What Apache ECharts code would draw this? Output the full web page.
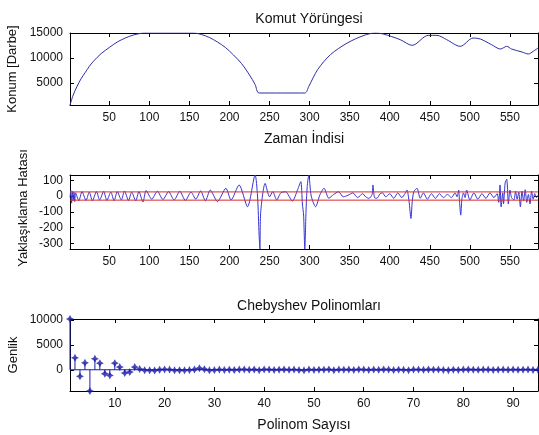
<!DOCTYPE html>
<html>
<head>
<meta charset="utf-8">
<script src="https://cdn.jsdelivr.net/npm/echarts@6/dist/echarts.min.js"></script>
<style>
  html, body { margin: 0; padding: 0; background: #fff; }
  #chart { width: 539px; height: 435px; }
</style>
</head>
<body>
<div id="chart"></div>
<script>
// Commanded position trajectory (sample index, position in pulses)
const trajIdx = [1, 5, 10, 15, 20, 25, 30, 40, 50, 60, 70, 80, 90, 93,
  155, 165, 175, 185, 195, 205, 215, 225, 232, 237,
  294, 299, 310, 326, 347, 368, 382, 392, 413, 428, 448, 459, 471, 488,
  504, 513, 527, 538, 546, 552, 565, 573, 579, 585];
const trajVal = [600, 2600, 4400, 5900, 7100, 8300, 9300, 10900, 12100, 13200, 14000, 14600, 14950, 15000,
  15000, 14700, 14100, 13200, 12100, 10600, 8900, 6600, 4700, 3000,
  3000, 4330, 7670, 10670, 13000, 14530, 15000, 14800, 13670, 12530, 14530, 14530, 13670, 12330,
  14000, 13800, 12670, 11800, 12330, 11800, 11200, 10800, 11330, 12000];

// Approximation error (sample index, error)
const errIdx = [1, 2, 3, 4, 5, 6, 7, 8,
  12, 16, 21, 25, 29, 34, 38, 43, 47, 52, 56, 60, 65, 69, 74, 78, 83, 87, 92, 96,
  103, 110, 117, 124, 131, 138, 145, 152, 158, 164, 170, 176, 185, 195.5, 202, 212, 222.5, 232,
  235, 237, 238, 239, 244.5, 250, 254, 259, 264, 270, 278.5, 285, 289, 291, 292.5, 294, 295.5, 297, 299,
  302, 307.5, 313, 318, 324, 330, 336, 342, 348, 354, 360, 366, 370, 374, 378, 379, 381, 384, 388, 391,
  395, 400, 405, 410, 415, 419, 421.5, 424, 426.5, 428, 430, 434, 438, 442, 447, 452, 457, 462, 467,
  472, 477, 481.5, 484, 486, 487, 488.6, 490, 492, 494, 496, 500, 505, 510, 515, 520, 525, 530, 534,
  536, 537.6, 539, 541, 542, 544, 546, 548, 550, 552, 555, 557, 559, 561, 563, 565, 567, 569, 571,
  573, 575, 577, 579, 581, 583, 585];
const errVal = [-10, 35, -45, 30, -30, 25, -35, 20,
  -30, 28, -28, 25, -30, 28, -25, 30, -28, 25, -30, 28, -25, 32, -28, 25, -30, 28, -38, 35,
  -20, 30, -22, 28, -25, 30, -28, 25, -20, 32, -30, 38, -35, 49, -25, 70, -68, 133,
  0, -250, -335, -100, 80, -5, 27, -25, 20, 27, -32, 40, 91, -50, -120, -335, -100, 60, 133,
  0, -68, 10, 49, -14, 10, 27, -5, 5, 20, -10, 15, -5, -15, 10, 70, -10, -14, 15, 20,
  -5, 15, -15, 20, -10, 15, 38, -30, -142, -40, 27, 49, -14, 20, -20, 15, -15, 15, -10,
  10, -10, 20, -5, 38, -30, -121, -20, 20, -10, 38, -25, 20, -20, 15, -15, 20, -10, 15,
  -40, 70, -68, 20, -50, 83, 106, -50, 38, -10, -25, 30, -20, 25, -68, 30, -30, 40, -40,
  10, -50, 30, -20, 15, -10, 5];

// Error tolerance band
const errBand = [26, -26];

// Chebyshev coefficient amplitudes, orders 1..95
const coeffVals = [
  10200, 2400, -1330, 1400, -4270, 2200, 1330, -800, -1130, 1330,
  530, -670, -470, 530, 130, -100, -120, -150, 0, 60,
  40, -120, -100, -110, -60, 50, 300, 100, -120, -60,
  30, -30, 20, -50, 40, 60, -20, 50, -80, 60,
  40, -30, 20, 50, -20, 40, -70, -120, 30, -40,
  20, 10, 60, -90, 40, 20, 30, -30, 60, 30,
  -40, 40, -20, 50, 30, -60, 20, -10, -90, 40,
  30, -20, 50, 10, 40, -30, -90, 20, -40, 30,
  50, 10, -20, 40, 30, -30, 20, 40, -10, 30,
  -20, 10, 40, -30, 20];

// Tick positions
const timeTicks = [50, 100, 150, 200, 250, 300, 350, 400, 450, 500, 550];
const posTicks = [5000, 10000, 15000];
const errTicks = [-300, -200, -100, 0, 100];
const orderTicks = [10, 20, 30, 40, 50, 60, 70, 80, 90];
const ampTicks = [0, 5000, 10000];

const FONT = '"Liberation Sans", Arial, sans-serif';
const INK = '#111';
const TITLE_SIZE = 14;
const YNAME_SIZE = 13;

const pairs = (xs, ys) => xs.map((x, i) => [x, ys[i]]);
const plain = v => String(v);

function xAx(grid, min, max, ticks, pos, name) {
  const main = pos === 'bottom';
  return {
    type: 'value', gridIndex: grid, position: pos, min: min, max: max,
    name: main ? name : '', nameLocation: 'middle', nameGap: 27, nameMoveOverlap: false,
    nameTextStyle: { fontFamily: FONT, fontSize: TITLE_SIZE, color: INK },
    axisLine: { show: true, onZero: false, lineStyle: { color: '#000', width: 1 } },
    axisTick: { show: true, inside: true, length: 4, customValues: ticks, lineStyle: { color: '#000' } },
    axisLabel: { show: main, customValues: ticks, formatter: plain, margin: 7,
      fontFamily: FONT, fontSize: 12, color: INK },
    splitLine: { show: false }
  };
}
function yAx(grid, min, max, ticks, pos, name, gap) {
  const main = pos === 'left';
  return {
    type: 'value', gridIndex: grid, position: pos, min: min, max: max,
    name: main ? name : '', nameLocation: 'middle', nameGap: gap || 50, nameMoveOverlap: false,
    nameTextStyle: { fontFamily: FONT, fontSize: YNAME_SIZE, color: INK },
    axisLine: { show: true, onZero: false, lineStyle: { color: '#000', width: 1 } },
    axisTick: { show: true, inside: true, length: 4, customValues: ticks, lineStyle: { color: '#000' } },
    axisLabel: { show: main, customValues: ticks, formatter: plain, margin: 7,
      fontFamily: FONT, fontSize: 12, color: INK },
    splitLine: { show: false }
  };
}

const chart = echarts.init(document.getElementById('chart'), null, { renderer: 'canvas' });

chart.setOption({
  animation: false,
  backgroundColor: '#fff',
  title: [
    { text: 'Komut Yörüngesi', left: 304, top: 7, textAlign: 'center',
      textStyle: { fontFamily: FONT, fontSize: TITLE_SIZE, fontWeight: 'normal', color: INK } },
    { text: 'Chebyshev Polinomları', left: 304, top: 294, textAlign: 'center',
      textStyle: { fontFamily: FONT, fontSize: TITLE_SIZE, fontWeight: 'normal', color: INK } }
  ],
  graphic: [
    {
      // y-axis title of the error panel
      type: 'text', x: 23, y: 208, rotation: Math.PI / 2,
      style: { text: 'Yaklaşıklama Hatası', font: YNAME_SIZE + 'px ' + FONT, fill: INK,
        align: 'center', verticalAlign: 'middle' }
    }
  ],
  grid: [
    { left: 70, right: 1, top: 33, height: 72, outerBoundsMode: 'none' },
    { left: 70, right: 1, top: 175, height: 74, outerBoundsMode: 'none' },
    { left: 70, right: 1, top: 319, height: 72, outerBoundsMode: 'none' }
  ],
  xAxis: [
    xAx(0, 1, 585, timeTicks, 'bottom', 'Zaman İndisi'),
    xAx(0, 1, 585, timeTicks, 'top'),
    xAx(1, 1, 585, timeTicks, 'bottom', ''),
    xAx(1, 1, 585, timeTicks, 'top'),
    xAx(2, 1, 95, orderTicks, 'bottom', 'Polinom Sayısı'),
    xAx(2, 1, 95, orderTicks, 'top')
  ],
  yAxis: [
    yAx(0, 600, 15000, posTicks, 'left', 'Konum [Darbe]', 51),
    yAx(0, 600, 15000, posTicks, 'right'),
    yAx(1, -335, 133, errTicks, 'left', ''),
    yAx(1, -335, 133, errTicks, 'right'),
    yAx(2, -4270, 10200, ampTicks, 'left', 'Genlik', 50),
    yAx(2, -4270, 10200, ampTicks, 'right')
  ],
  series: [
    {
      type: 'line', xAxisIndex: 0, yAxisIndex: 0,
      data: pairs(trajIdx, trajVal), showSymbol: false, smooth: 0.3,
      lineStyle: { color: '#2e2ea0', width: 1 }
    },
    {
      type: 'line', xAxisIndex: 2, yAxisIndex: 2,
      data: pairs(errIdx, errVal), showSymbol: false, smooth: 0.25,
      lineStyle: { color: '#3434d4', width: 1 }
    },
    ...errBand.map(v => ({
      type: 'line', xAxisIndex: 2, yAxisIndex: 2,
      data: [[1, v], [585, v]], showSymbol: false,
      lineStyle: { color: '#e02828', width: 1 }
    })),
    {
      // stem baseline
      type: 'line', xAxisIndex: 4, yAxisIndex: 4,
      data: [[1, 0], [95, 0]], showSymbol: false,
      lineStyle: { color: '#1a1aa8', width: 1 }
    },
    {
      // stems
      type: 'custom', xAxisIndex: 4, yAxisIndex: 4,
      data: coeffVals.map((v, i) => [i + 1, v]),
      renderItem: function (params, api) {
        const p0 = api.coord([api.value(0), 0]);
        const p1 = api.coord([api.value(0), api.value(1)]);
        return { type: 'line', shape: { x1: p0[0], y1: p0[1], x2: p1[0], y2: p1[1] },
          style: { stroke: '#1a1aa8', lineWidth: 1 } };
      },
      clip: false
    },
    {
      type: 'scatter', xAxisIndex: 4, yAxisIndex: 4,
      data: coeffVals.map((v, i) => [i + 1, v]),
      symbol: 'path://M0,-10 L3.5,-3.5 L10,0 L3.5,3.5 L0,10 L-3.5,3.5 L-10,0 L-3.5,-3.5 Z',
      symbolSize: 8,
      itemStyle: { color: '#1a1aa8' },
      clip: false
    }
  ]
});
</script>
</body>
</html>
